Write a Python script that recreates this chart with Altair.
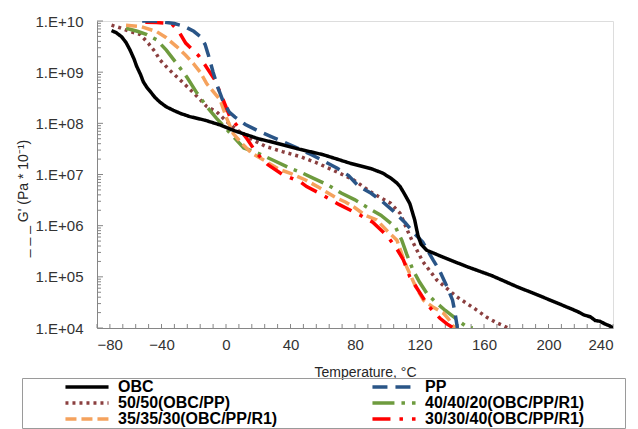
import altair as alt
import pandas as pd

# ---------------- data ----------------
# legend order (Vega fills legend columns top-to-bottom)
series_names = ["OBC", "50/50(OBC/PP)", "35/35/30(OBC/PP/R1)",
                "PP", "40/40/20(OBC/PP/R1)", "30/30/40(OBC/PP/R1)"]
series_colors = ["#000000", "#8B3F3F", "#F5A25D", "#2A5587", "#6E9B3E", "#FF0000"]
series_dashes = [[1, 0], [3, 4], [11, 5], [15, 8], [22, 7, 3.5, 7], [18, 9, 3.5, 9]]
draw_order = ["50/50(OBC/PP)", "40/40/20(OBC/PP/R1)", "35/35/30(OBC/PP/R1)",
              "30/30/40(OBC/PP/R1)", "PP", "OBC"]

obc_t = [-71, -68, -64.7, -62, -59.5, -57, -55.4, -53, -51.3, -49, -47, -44, -41, -37,
         -32.7, -28, -22.3, -13, -3.7, 5.6, 20, 30, 44, 60, 77, 90, 97, 102, 106, 108,
         111, 114, 117, 119, 121, 124.5, 135, 149, 165, 180, 195, 211, 218, 222, 226,
         229, 232, 235, 238, 240]
obc_g = [6.5e9, 5.9e9, 4.9e9, 3.8e9, 2.7e9, 1.8e9, 1.3e9, 9.0e8, 6.5e8, 5.0e8, 4.2e8,
         3.2e8, 2.6e8, 2.1e8, 1.8e8, 1.55e8, 1.35e8, 1.15e8, 9.3e7, 7.1e7, 5.0e7, 4.2e7,
         3.2e7, 2.45e7, 1.66e7, 1.3e7, 1.07e7, 8.6e6, 6.8e6, 5.8e6, 4.0e6, 2.7e6, 1.3e6,
         6.5e5, 4.3e5, 3.3e5, 2.4e5, 1.6e5, 1.05e5, 6.5e4, 4.2e4, 2.6e4, 2.1e4, 1.8e4,
         1.65e4, 1.4e4, 1.35e4, 1.2e4, 1.1e4, 1.0e4]

pp_t = [-52, -45, -38, -32, -26, -20, -16, -13, -11, -8, -5, -2, 2, 5.6, 12, 20, 28, 36,
        45, 53, 61, 69, 76, 82, 90, 97, 104, 111, 116, 122, 128.4, 132, 137, 140.5, 142,
        143.5]
pp_g = [1.0e10, 1.0e10, 9.5e9, 8.9e9, 7.9e9, 6.3e9, 5.0e9, 3.5e9, 2.2e9, 1.0e9, 5.0e8,
        2.8e8, 1.66e8, 1.32e8, 9.5e7, 7.1e7, 5.5e7, 4.3e7, 3.2e7, 2.45e7, 1.8e7, 1.32e7,
        9.5e6, 6.0e6, 4.3e6, 2.95e6, 1.9e6, 1.15e6, 7.5e5, 4.8e5, 2.14e5, 1.41e5, 6.5e4,
        3.5e4, 2.0e4, 1.0e4]

b50_t = [-71, -66, -60, -53, -48, -44, -41, -35, -28.5, -20, -12, -6, 0, 4.5, 10, 16.7,
         25, 35, 46, 56, 66, 79, 91, 102, 108, 114, 118, 122, 130.7, 143, 155.5, 162,
         168, 175]
b50_g = [8.3e9, 7.4e9, 6.3e9, 5.4e9, 3.6e9, 2.5e9, 1.74e9, 1.1e9, 7.1e8, 3.9e8, 2.14e8,
         1.7e8, 1.12e8, 8.5e7, 6.3e7, 4.7e7, 3.5e7, 2.8e7, 2.24e7, 1.7e7, 1.23e7, 7.9e6,
         4.3e6, 2.75e6, 1.74e6, 6.3e5, 3.5e5, 2.0e5, 8.7e4, 4.1e4, 2.24e4, 1.6e4, 1.26e4,
         1.0e4]

g40_t = [-62, -55, -49, -43, -37, -30.6, -24.4, -18, -12, -6, 0, 4.5, 11, 20, 29.3, 40,
         46, 54, 63, 71.7, 80, 88, 96, 105, 109, 112, 116, 120, 124.5, 130, 136, 141,
         145, 149, 153]
g40_g = [7.2e9, 6.3e9, 5.4e9, 4.3e9, 2.7e9, 1.48e9, 8.1e8, 3.9e8, 2.14e8, 1.26e8,
         7.9e7, 5.5e7, 3.3e7, 2.6e7, 1.9e7, 1.32e7, 1.12e7, 8.5e6, 6.3e6, 4.3e6, 3.2e6,
         2.24e6, 1.6e6, 9.5e5, 5.2e5, 2.8e5, 1.35e5, 7.9e4, 4.8e4, 3.2e4, 2.2e4, 1.66e4,
         1.32e4, 1.07e4, 1.0e4]

o35_t = [-62, -53, -43, -37, -30.6, -25, -20.3, -16, -12, -8, -3.7, 0.4, 4.5, 10, 16,
         24, 33, 40, 49, 58, 67.6, 74, 80, 86, 93.5, 100, 106, 109, 112, 117, 122.4, 128,
         134.8, 138, 141, 144]
o35_g = [8.3e9, 7.8e9, 6.2e9, 4.7e9, 3.16e9, 2.14e9, 1.48e9, 1.0e9, 6.0e8, 4.2e8,
         2.9e8, 1.26e8, 6.3e7, 4.0e7, 2.6e7, 1.86e7, 1.26e7, 1.05e7, 7.9e6, 5.5e6, 3.6e6,
         2.9e6, 2.24e6, 1.62e6, 1.29e6, 7.9e5, 5.2e5, 2.8e5, 1.58e5, 7.1e4, 3.5e4, 2.6e4,
         1.95e4, 1.5e4, 1.07e4, 1.0e4]

r30_t = [-50, -43, -37, -33.7, -29, -25, -20, -17, -13, -7, -2.5, 2.5, 7.5, 13, 19, 26,
         35, 46, 50, 58, 70, 83, 91, 100, 106, 110, 114, 119, 124.5, 128, 132.7, 137, 141]
r30_g = [9.5e9, 9.3e9, 9.1e9, 8.9e9, 6.0e9, 3.7e9, 2.6e9, 2.1e9, 1.38e9, 7.1e8, 3.3e8,
         1.32e8, 8.5e7, 5.0e7, 2.6e7, 1.55e7, 1.0e7, 7.2e6, 5.8e6, 4.3e6, 2.6e6, 1.62e6,
         1.17e6, 6.3e5, 3.5e5, 2.14e5, 1.0e5, 5.6e4, 3.0e4, 2.2e4, 1.55e4, 1.2e4, 1.0e4]

x_label_values = [-80, -40, 0, 40, 80, 120, 160, 200, 240]
x_minor_values = list(range(-80, 241, 8))
y_major_values = [1e4, 1e5, 1e6, 1e7, 1e8, 1e9, 1e10]
y_minor_values = [m * d for d in [1e4, 1e5, 1e6, 1e7, 1e8, 1e9] for m in range(2, 10)]

# ---------------- tables ----------------
series_data = {
    "OBC": (obc_t, obc_g),
    "PP": (pp_t, pp_g),
    "50/50(OBC/PP)": (b50_t, b50_g),
    "40/40/20(OBC/PP/R1)": (g40_t, g40_g),
    "35/35/30(OBC/PP/R1)": (o35_t, o35_g),
    "30/30/40(OBC/PP/R1)": (r30_t, r30_g),
}
rows = []
for k, name in enumerate(draw_order):
    ts, gs = series_data[name]
    for i, (t, g) in enumerate(zip(ts, gs)):
        rows.append({"series": name, "T": t, "G": g, "ord": k, "i": i})
df = pd.DataFrame(rows)

FONT = "Liberation Sans"
W, H = 516, 307

xscale = alt.Scale(domain=[-80, 240], nice=False, zero=False)
yscale = alt.Scale(type="log", domain=[1e4, 1e10], nice=False)

legend = alt.Legend(
    title="\u00a0", titleOrient="right", titlePadding=40, titleFontSize=10,
    orient="none", legendX=-75, legendY=357, columns=2,
    columnPadding=52, rowPadding=0, symbolType="M-4,0H4", symbolSize=116,
    symbolStrokeWidth=3.5, labelFont=FONT, labelFontSize=16, labelFontWeight="bold",
    labelColor="#000000", strokeColor="#9A9A9A", padding=1, symbolOffset=56,
    labelOffset=23, labelLimit=400,
)

lines = alt.Chart(df).mark_line(strokeWidth=3.5, clip=True).encode(
    x=alt.X("T:Q", scale=xscale,
            axis=alt.Axis(values=x_label_values, ticks=False, grid=False,
                          labelFont=FONT, labelFontSize=15, labelColor="#333333",
                          labelPadding=9, domainColor="#868686",
                          title="Temperature, °C", titleFont=FONT, titleFontSize=14,
                          titleFontWeight="normal", titleColor="#262626",
                          titleX=268, titleY=48, titleBaseline="alphabetic",
                          titleAlign="center", titleAnchor="middle")),
    y=alt.Y("G:Q", scale=yscale,
            axis=alt.Axis(values=y_major_values, ticks=False, grid=False,
                          labelExpr="'1.E+' + (round(log(datum.value)/LN10) < 10 ? '0' : '') + round(log(datum.value)/LN10)",
                          labelFont=FONT, labelFontSize=15, labelColor="#333333",
                          labelPadding=14, domainColor="#868686",
                          title="_ _ _ G' (Pa * 10⁻¹)", titleFont=FONT,
                          titleFontSize=14, titleFontWeight="normal",
                          titleColor="#262626", titleAngle=270, titleX=-70,
                          titleY=177, titleBaseline="alphabetic", titleAlign="center")),
    color=alt.Color("series:N", scale=alt.Scale(domain=series_names, range=series_colors),
                    legend=legend),
    strokeDash=alt.StrokeDash("series:N",
                              scale=alt.Scale(domain=series_names, range=series_dashes),
                              legend=legend),
    detail="ord:O",
    order="i:Q",
)

xt_df = pd.DataFrame({"T": x_minor_values})
x_ticks = alt.Chart(xt_df).mark_rule(color="#868686", strokeWidth=1).encode(
    x=alt.X("T:Q", scale=xscale), y=alt.value(H), y2=alt.value(H - 4))

ymaj_df = pd.DataFrame({"G": y_major_values})
y_major_ticks = alt.Chart(ymaj_df).mark_rule(color="#868686", strokeWidth=1).encode(
    y=alt.Y("G:Q", scale=yscale), x=alt.value(0), x2=alt.value(6))

ymin_df = pd.DataFrame({"G": y_minor_values})
y_minor_ticks = alt.Chart(ymin_df).mark_rule(color="#868686", strokeWidth=1).encode(
    y=alt.Y("G:Q", scale=yscale), x=alt.value(0), x2=alt.value(4))

chart = alt.layer(x_ticks, y_major_ticks, y_minor_ticks, lines).properties(
    width=W, height=H,
    padding={"left": 97, "top": 21, "right": 25, "bottom": 101},
    autosize=alt.AutoSizeParams(type="none"),
).configure_view(stroke="#A6A6A6", strokeWidth=1).configure(background="white")

chart.save("out.html", embed_options={"renderer": "svg", "actions": False})
